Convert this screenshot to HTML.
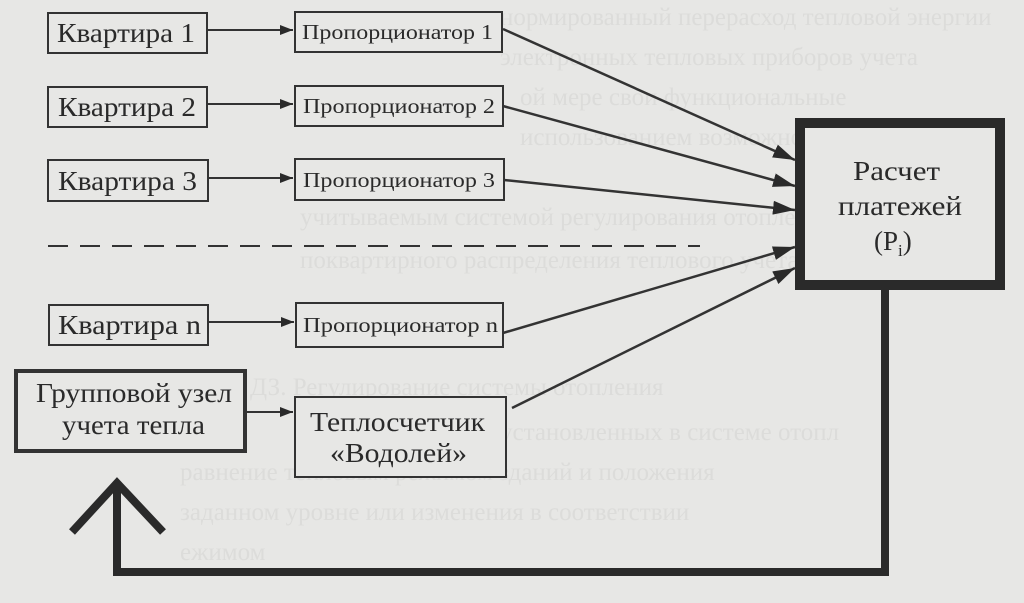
<!DOCTYPE html>
<html><head><meta charset="utf-8"><style>
body{margin:0;background:#e6e6e4;}
svg{display:block}
text{font-family:"Liberation Serif",serif;fill:#2a2a2a}
</style></head><body>
<svg width="1024" height="603" viewBox="0 0 1024 603">
<rect width="1024" height="603" fill="#e7e7e5"/>
<g font-size="25" style="fill:#dcdcda">
<text x="500" y="25" style="fill:#dcdcda">нормированный перерасход тепловой энергии</text>
<text x="500" y="65" style="fill:#dcdcda">электронных тепловых приборов учета</text>
<text x="520" y="105" style="fill:#dcdcda">ой мере свои функциональные</text>
<text x="520" y="145" style="fill:#dcdcda">использованием возможностей</text>
<text x="300" y="225" style="fill:#dcdcda">учитываемым системой регулирования отопления</text>
<text x="300" y="268" style="fill:#dcdcda">поквартирного распределения теплового учета</text>
<text x="250" y="395" style="fill:#dcdcda">ДЗ. Регулирование системы отопления</text>
<text x="500" y="440" style="fill:#dcdcda">установленных в системе отопл</text>
<text x="180" y="480" style="fill:#dcdcda">равнение тепловым режимом зданий и положения</text>
<text x="180" y="520" style="fill:#dcdcda">заданном уровне или изменения в соответствии</text>
<text x="180" y="560" style="fill:#dcdcda">ежимом</text>
</g>
<defs><marker id="a" markerWidth="13" markerHeight="10" refX="13" refY="5" orient="auto" markerUnits="userSpaceOnUse"><path d="M0,0L13,5L0,10z" fill="#2a2a2a"/></marker>
<marker id="b" markerWidth="22" markerHeight="14" refX="22" refY="7" orient="auto" markerUnits="userSpaceOnUse"><path d="M0,0L22,7L0,14z" fill="#2a2a2a"/></marker></defs>
<g stroke="#333" stroke-width="2" fill="#e7e7e5">
<rect x="48" y="13" width="159" height="40"/>
<rect x="48" y="87" width="159" height="40"/>
<rect x="48" y="160" width="160" height="41"/>
<rect x="49" y="305" width="159" height="40"/>
<rect x="295" y="12" width="207" height="40"/>
<rect x="295" y="86" width="208" height="40"/>
<rect x="295" y="159" width="209" height="41"/>
<rect x="296" y="303" width="207" height="44"/>
<rect x="295" y="397" width="211" height="80"/>
<rect x="16" y="371" width="229" height="80" stroke-width="4"/>
<rect x="800" y="123" width="200" height="162" stroke-width="10" stroke="#2a2a2a"/>
</g>
<g stroke="#333" stroke-width="2" fill="none">
<line x1="207" y1="30" x2="293" y2="30" marker-end="url(#a)"/>
<line x1="207" y1="104" x2="293" y2="104" marker-end="url(#a)"/>
<line x1="208" y1="178" x2="293" y2="178" marker-end="url(#a)"/>
<line x1="208" y1="322" x2="294" y2="322" marker-end="url(#a)"/>
<line x1="246" y1="412" x2="293" y2="412" marker-end="url(#a)"/>
<line x1="48" y1="246" x2="700" y2="246" stroke-dasharray="20,12"/>
<line x1="503" y1="29" x2="795" y2="160" marker-end="url(#b)" stroke-width="2.5"/>
<line x1="503" y1="106" x2="795" y2="186" marker-end="url(#b)" stroke-width="2.5"/>
<line x1="504" y1="180" x2="795" y2="210" marker-end="url(#b)" stroke-width="2.5"/>
<line x1="503" y1="333" x2="795" y2="247" marker-end="url(#b)" stroke-width="2.5"/>
<line x1="512" y1="408" x2="795" y2="268" marker-end="url(#b)" stroke-width="2.5"/>
<polyline points="885,290 885,572 117,572 117,488" stroke-width="8" stroke="#2a2a2a"/>
<polyline points="72,532 117,483 163,532" stroke-width="8" stroke="#2a2a2a"/>
</g>
<g font-size="27">
<text x="57" y="42" textLength="138" lengthAdjust="spacingAndGlyphs">Квартира 1</text>
<text x="58" y="116" textLength="138" lengthAdjust="spacingAndGlyphs">Квартира 2</text>
<text x="58" y="190" textLength="139" lengthAdjust="spacingAndGlyphs">Квартира 3</text>
<text x="58" y="334" textLength="143" lengthAdjust="spacingAndGlyphs">Квартира n</text>
</g>
<g font-size="21">
<text x="302" y="39" textLength="191" lengthAdjust="spacingAndGlyphs">Пропорционатор 1</text>
<text x="303" y="113" textLength="192" lengthAdjust="spacingAndGlyphs">Пропорционатор 2</text>
<text x="303" y="187" textLength="192" lengthAdjust="spacingAndGlyphs">Пропорционатор 3</text>
<text x="303" y="332" textLength="195" lengthAdjust="spacingAndGlyphs">Пропорционатор n</text>
</g>
<g font-size="27">
<text x="36" y="402" textLength="196" lengthAdjust="spacingAndGlyphs">Групповой узел</text>
<text x="62" y="434" textLength="143" lengthAdjust="spacingAndGlyphs">учета тепла</text>
<text x="310" y="431" textLength="175" lengthAdjust="spacingAndGlyphs">Теплосчетчик</text>
<text x="330" y="462" textLength="137" lengthAdjust="spacingAndGlyphs">«Водолей»</text>
<text x="853" y="180" textLength="87" lengthAdjust="spacingAndGlyphs">Расчет</text>
<text x="838" y="215" textLength="124" lengthAdjust="spacingAndGlyphs">платежей</text>
<text x="874" y="250">(P<tspan font-size="17" dy="6">i</tspan><tspan dy="-6">)</tspan></text>
</g>
</svg>
</body></html>
